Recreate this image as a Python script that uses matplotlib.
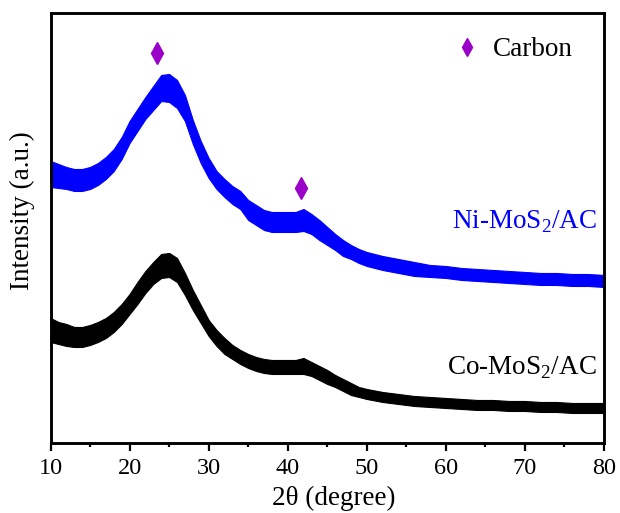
import numpy as np
import matplotlib
matplotlib.use('Agg')
import matplotlib.pyplot as plt

plt.rcParams['font.family'] = ['Liberation Serif', 'DejaVu Serif']
plt.rcParams['mathtext.fontset'] = 'custom'
plt.rcParams['mathtext.rm'] = 'Liberation Serif'

# 2theta positions where the patterns were read
two_theta = [10, 11, 12, 13, 14, 15, 16, 17, 18, 19, 20, 21, 22, 23, 24, 25,
             26, 27, 28, 29, 30, 31, 32, 33, 34, 35, 36, 37, 38, 39, 40, 41,
             42, 43, 44, 45, 46, 47, 48, 49, 50, 52, 54, 56, 58, 60, 62, 64,
             66, 68, 70, 72, 74, 76, 78, 80]

# Ni-MoS2/AC: mean intensity and half width of the noise band (a.u.)
ni_mean = [269, 267, 265, 263, 263, 265, 269, 275, 283, 295, 311, 323, 335,
           345, 355, 355, 349, 335, 311, 291, 275, 263, 255, 248, 243, 233,
           228, 223, 221, 221, 221, 221, 223, 219, 213, 207, 201, 195, 191,
           187, 184, 180, 177, 174, 172, 171, 169, 168, 167, 166, 165, 164,
           164, 163, 163, 162]
ni_noise = [13, 12, 11, 11, 11, 11, 11, 11, 11, 11, 11, 11, 11, 12, 13, 14,
            14, 13, 12, 11, 10, 9, 9, 9, 9, 10, 10, 10, 10, 10, 10, 10, 11,
            10, 10, 9, 8, 8, 7, 7, 7, 7, 7, 7, 6, 6, 6, 6, 6, 6, 6, 6, 6, 6,
            6, 6]

# Co-MoS2/AC
co_mean = [113, 110, 108, 106, 106, 108, 111, 115, 121, 129, 139, 150, 161,
           170, 177, 178, 173, 159, 143, 129, 115, 105, 97, 91, 86, 82, 79,
           77, 76, 76, 76, 76, 77, 74, 70, 66, 62, 58, 54, 51, 49, 46, 44, 42,
           41, 40, 39, 38, 38, 37, 37, 36, 36, 35, 35, 35]
co_noise = [12, 11, 11, 10, 10, 10, 10, 10, 10, 10, 10, 11, 11, 11, 12, 12,
            12, 11, 10, 9, 8, 8, 8, 7, 7, 7, 7, 7, 7, 7, 7, 7, 8, 7, 7, 7, 6,
            6, 6, 5, 5, 5, 5, 5, 5, 5, 5, 5, 5, 5, 5, 5, 5, 5, 5, 5]

# carbon peak markers
carbon_x = [23.5, 41.7]
carbon_y = [390, 255]

x = np.array(two_theta)
ni_m, ni_n = np.array(ni_mean), np.array(ni_noise)
co_m, co_n = np.array(co_mean), np.array(co_noise)

fig = plt.figure(figsize=(6.2, 5.13), dpi=100)
ax = fig.add_axes([0.0815, 0.1365, 0.8925, 0.8372])

ax.fill_between(x, ni_m - ni_n, ni_m + ni_n, color='#0000FF', lw=0.8)
ax.fill_between(x, co_m - co_n, co_m + co_n, color='black', lw=0.8)

purple = '#9A00C8'
ax.plot(carbon_x, carbon_y, 'd', color=purple, markersize=11, label='Carbon')

ax.text(0.987, 0.515, 'Ni-MoS$_2$/AC', color='#0000FF', fontsize=19.5,
        ha='right', va='center', transform=ax.transAxes)
ax.text(0.987, 0.175, 'Co-MoS$_2$/AC', color='black', fontsize=19.5,
        ha='right', va='center', transform=ax.transAxes)

ax.legend(loc='center left', bbox_to_anchor=(0.73, 0.915), frameon=False,
          fontsize=19.5, handlelength=0.9, handletextpad=0.5, borderpad=0,
          borderaxespad=0, markerscale=0.8)

ax.set_xlim(10, 80)
ax.set_ylim(0, 429.5)
ax.set_xticks(np.arange(10, 81, 10))
ax.set_xticks(np.arange(15, 80, 10), minor=True)
ax.set_yticks([])
ax.tick_params(axis='x', which='major', direction='out', length=6, width=1.6,
               labelsize=17.5, pad=5)
ax.tick_params(axis='x', which='minor', direction='out', length=3, width=1.6)
for s in ax.spines.values():
    s.set_linewidth(2.1)

ax.set_xlabel('2θ (degree)', fontsize=19.5)
ax.xaxis.label.set_va('center')
ax.xaxis.set_label_coords(0.512, -0.128)
ax.set_ylabel('Intensity (a.u.)', fontsize=19.5)
ax.yaxis.label.set_va('center')
ax.yaxis.set_label_coords(-0.05, 0.54)

fig.savefig('out.png', dpi=100)
